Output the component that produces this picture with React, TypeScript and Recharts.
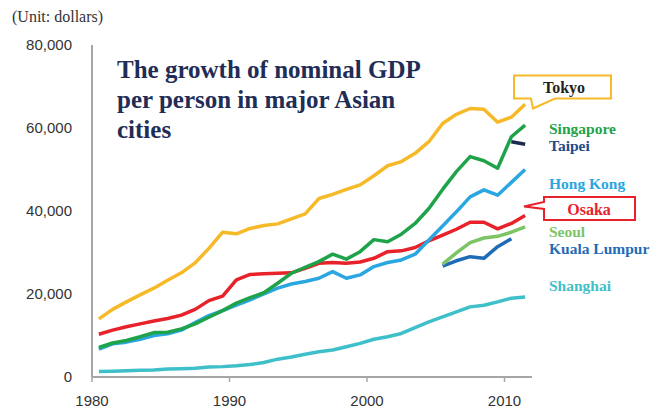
import React from "react";
import { LineChart, Line, XAxis, YAxis } from "recharts";

// === DATA (nominal GDP per person, dollars) ===
const years = [
  1980, 1981, 1982, 1983, 1984, 1985, 1986, 1987, 1988, 1989, 1990, 1991, 1992, 1993, 1994, 1995,
  1996, 1997, 1998, 1999, 2000, 2001, 2002, 2003, 2004, 2005, 2006, 2007, 2008, 2009, 2010, 2011,
];

const tokyo = [
  14000, 16300, 18100, 19800, 21400, 23300, 25100, 27500, 31000, 34900, 34500, 35800, 36500, 36900, 38100, 39300,
  43000, 44000, 45200, 46300, 48500, 50900, 51900, 53900, 56700, 61100, 63300, 64700, 64500, 61400, 62600, 65700,
];
const osaka = [
  10300, 11300, 12100, 12800, 13500, 14100, 14900, 16300, 18400, 19500, 23400, 24700, 24900, 25000, 25100, 26200,
  27400, 27600, 27400, 27700, 28600, 30200, 30400, 31200, 32800, 34200, 35600, 37300, 37300, 35700, 37000, 38900,
];
const hongKong = [
  6700, 8000, 8400, 9100, 10000, 10400, 11300, 13100, 14800, 16000, 17300, 18600, 20000, 21400, 22400, 23000,
  23800, 25400, 23800, 24600, 26600, 27600, 28200, 29600, 33000, 36400, 39800, 43400, 45100, 43800, 46900, 50000,
];
const singapore = [
  7100, 8200, 8800, 9700, 10700, 10800, 11600, 12800, 14400, 16000, 17800, 19100, 20300, 22600, 25000, 26400,
  27800, 29600, 28400, 30200, 33100, 32600, 34400, 37000, 40600, 45200, 49500, 53100, 52100, 50300, 57900, 60700,
];
const shanghai = [
  1300, 1400, 1500, 1600, 1700, 1900, 2000, 2100, 2400, 2500, 2700, 3000, 3500, 4300, 4800, 5500,
  6100, 6500, 7300, 8100, 9100, 9700, 10500, 11900, 13300, 14500, 15700, 16900, 17300, 18100, 19000, 19300,
];

// shorter series, starting later
const taipeiStart = 2010;
const taipei = [56700, 56100];
const seoulStart = 2005;
const seoul = [27200, 29900, 32400, 33500, 33900, 34900, 36200];
const klStart = 2005;
const kualaLumpur = [26700, 28000, 29000, 28600, 31400, 33300];

const xTicks = [1980, 1990, 2000, 2010];
const yTicks = [0, 20000, 40000, 60000, 80000];

const pick = (values: number[], start: number, year: number) => {
  const i = year - start;
  return i >= 0 && i < values.length ? values[i] : null;
};

// points sit in the middle of each year's slot
const data = years.map((year, i) => ({
  x: year + 0.5,
  tokyo: tokyo[i],
  osaka: osaka[i],
  hongKong: hongKong[i],
  singapore: singapore[i],
  shanghai: shanghai[i],
  taipei: pick(taipei, taipeiStart, year),
  seoul: pick(seoul, seoulStart, year),
  kualaLumpur: pick(kualaLumpur, klStart, year),
}));

// drawing order (last on top)
const series = [
  { key: "shanghai", color: "#3fbfc9" },
  { key: "kualaLumpur", color: "#1f6cb6" },
  { key: "seoul", color: "#7dc466" },
  { key: "osaka", color: "#e8222a" },
  { key: "hongKong", color: "#2aa6e0" },
  { key: "singapore", color: "#1fa34a" },
  { key: "taipei", color: "#1b2b50" },
  { key: "tokyo", color: "#f6b928" },
];

const labels = [
  { text: "Singapore", color: "#1fa34a", y: 134 },
  { text: "Taipei", color: "#1d4a8a", y: 151 },
  { text: "Hong Kong", color: "#2aa6e0", y: 189 },
  { text: "Seoul", color: "#7dc466", y: 237 },
  { text: "Kuala Lumpur", color: "#1f6cb6", y: 254 },
  { text: "Shanghai", color: "#3fbfc9", y: 291 },
];

const serif = "'Liberation Serif', 'Times New Roman', serif";
const sans = "'Liberation Sans', Arial, sans-serif";
const axisColor = "#a6a6a6";

const App: React.FC = () => {
  return (
    <div style={{ position: "absolute", left: 0, top: 0, width: 670, height: 408, background: "#fff" }}>
      <LineChart width={670} height={408} data={data} margin={{ top: 45, right: 138, bottom: 1, left: 0 }}>
        <XAxis
          type="number"
          dataKey="x"
          domain={[1980, 2012]}
          ticks={xTicks}
          height={30}
          axisLine={{ stroke: axisColor, strokeWidth: 2 }}
          tickLine={{ stroke: axisColor, strokeWidth: 1.5 }}
          tickSize={5}
          tickMargin={13}
          tick={{ fill: "#333", fontSize: 15, fontFamily: sans }}
        />
        <YAxis
          domain={[0, 80000]}
          ticks={yTicks}
          width={92}
          axisLine={{ stroke: axisColor, strokeWidth: 2 }}
          tickLine={false}
          tickSize={0}
          tickMargin={20}
          tick={{ fill: "#333", fontSize: 15, fontFamily: sans }}
          tickFormatter={(v: number) => v.toLocaleString("en-US")}
        />
        {series.map((s) => (
          <Line
            key={s.key}
            type="linear"
            dataKey={s.key}
            stroke={s.color}
            strokeWidth={3.5}
            strokeLinejoin="round"
            dot={false}
            activeDot={false}
            isAnimationActive={false}
          />
        ))}
      </LineChart>

      {/* title, unit and city labels */}
      <svg
        width={670}
        height={408}
        style={{ position: "absolute", left: 0, top: 0, pointerEvents: "none" }}
      >
        <text x={12} y={22} fontFamily={serif} fontSize={16} fill="#333">
          (Unit: dollars)
        </text>
        <g fontFamily={serif} fontSize={25} fontWeight="bold" fill="#1f2d57">
          <text x={117} y={78}>The growth of nominal GDP</text>
          <text x={117} y={108}>per person in major Asian</text>
          <text x={117} y={138}>cities</text>
        </g>

        <path
          d="M514,75.5 H611 V98.5 H555 L533,108.5 L531,98.5 H514 Z"
          fill="#fff"
          stroke="#f6b928"
          strokeWidth={2}
        />
        <text x={564} y={93} textAnchor="middle" fontFamily={serif} fontSize={16} fontWeight="bold" fill="#231f20">
          Tokyo
        </text>

        <path
          d="M544,197 H635 V220 H544 V209 L524,206.5 L544,202 Z"
          fill="#fff"
          stroke="#e8222a"
          strokeWidth={2}
        />
        <text x={589} y={215} textAnchor="middle" fontFamily={serif} fontSize={16} fontWeight="bold" fill="#e8222a">
          Osaka
        </text>

        {labels.map((l) => (
          <text key={l.text} x={549} y={l.y} fontFamily={serif} fontSize={15.5} fontWeight="bold" fill={l.color}>
            {l.text}
          </text>
        ))}
      </svg>
    </div>
  );
};

export default App;
